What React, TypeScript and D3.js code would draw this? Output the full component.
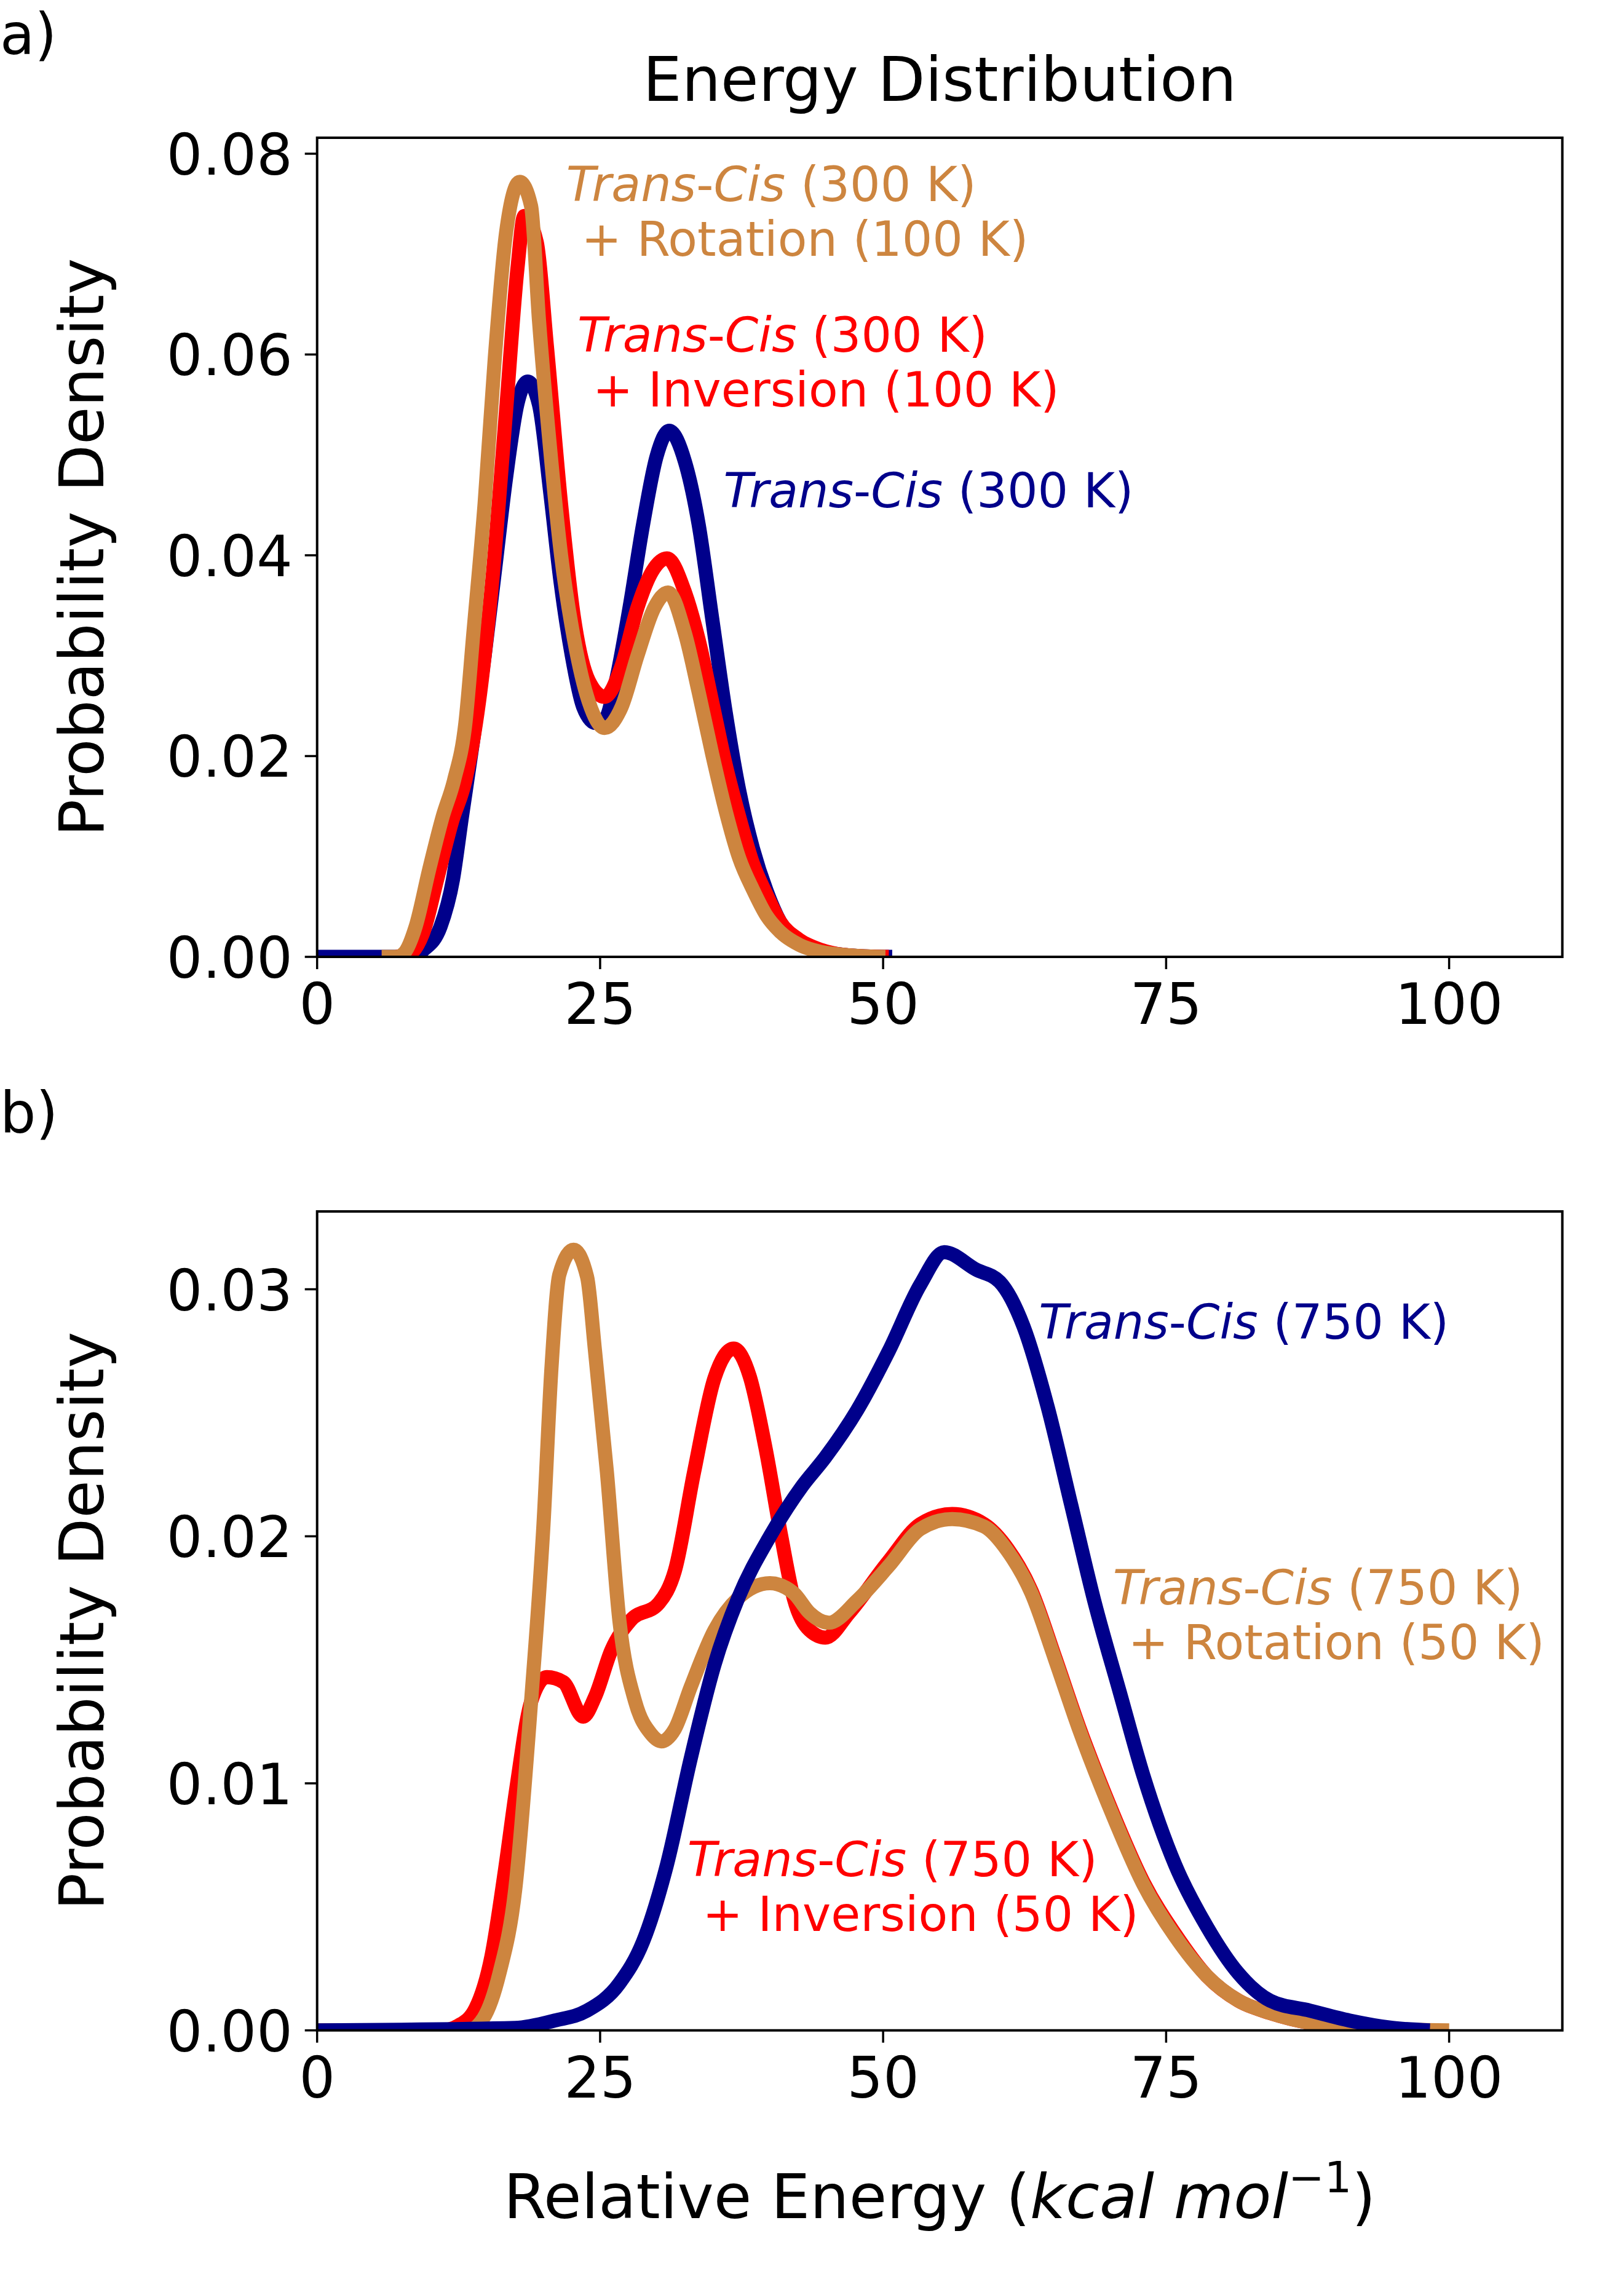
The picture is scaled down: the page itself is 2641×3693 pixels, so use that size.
import React from "react";
import * as d3 from "d3";

// ---------- DATA ----------
// Panel a (300 K)
const blueAX = [0, 8.2, 9.4, 10.9, 12.0, 12.8, 13.8, 14.8, 15.7, 16.7, 17.7, 18.6, 19.6, 20.6, 21.5, 22.5, 23.5, 24.6, 25.4, 26.4, 27.6, 28.8, 30.0, 31.1, 32.5, 33.7, 34.9, 36.1, 37.3, 38.5, 39.7, 40.9, 42.6, 44.5, 46.5, 48.5, 50.8];
const blueAY = [0, 0, 0.0007, 0.003, 0.0077, 0.014, 0.0217, 0.030, 0.0384, 0.0478, 0.0551, 0.0573, 0.0550, 0.0462, 0.0374, 0.030, 0.0249, 0.0233, 0.0236, 0.0275, 0.0348, 0.0431, 0.0499, 0.0524, 0.0493, 0.0431, 0.0337, 0.0243, 0.0165, 0.0108, 0.0066, 0.0035, 0.0015, 0.0006, 0.0002, 0.00005, 0];

const redAX = [7, 8.2, 9.4, 10.6, 11.9, 13.1, 14.3, 15.5, 16.7, 17.7, 18.3, 19.4, 20.3, 21.55, 22.7, 24.0, 25.4, 26.9, 28.3, 29.6, 30.9, 32.5, 33.7, 34.9, 36.1, 37.3, 38.5, 39.7, 40.9, 42.6, 44.5, 46.5, 48.5, 50.5];
const redAY = [0, 0.0003, 0.0025, 0.0077, 0.0134, 0.0176, 0.0254, 0.0378, 0.0545, 0.0686, 0.0738, 0.0712, 0.0608, 0.0451, 0.0337, 0.0275, 0.0259, 0.029, 0.0348, 0.0384, 0.0397, 0.0363, 0.0316, 0.0254, 0.0191, 0.0139, 0.0093, 0.0062, 0.0035, 0.0017, 0.0007, 0.0002, 0.00005, 0];

const orangeAX = [5.7, 7.0, 7.7, 8.7, 9.9, 11.1, 12.1, 13.1, 13.8, 14.8, 15.7, 16.7, 17.9, 18.9, 19.6, 20.6, 21.55, 22.7, 24.0, 25.4, 26.9, 28.3, 29.8, 31.0, 32.5, 33.7, 34.9, 36.1, 37.3, 38.5, 39.7, 40.9, 42.6, 44.5, 46.5, 48.5, 50.2];
const orangeAY = [0, 0, 0.0004, 0.003, 0.0087, 0.014, 0.0176, 0.0233, 0.0322, 0.0452, 0.0597, 0.0722, 0.0772, 0.0748, 0.0634, 0.0504, 0.040, 0.0316, 0.0254, 0.0228, 0.0249, 0.030, 0.0348, 0.0363, 0.0322, 0.0264, 0.0202, 0.0145, 0.0098, 0.0067, 0.0041, 0.0025, 0.0012, 0.0005, 0.0002, 0.00005, 0];

// Panel b (750 K)
const blueBX = [0, 17.5, 21.0, 23.85, 26.7, 28.8, 30.9, 33.0, 35.1, 37.2, 40.0, 42.8, 44.9, 47.7, 50.5, 53.3, 55.4, 58.2, 60.3, 62.4, 64.5, 66.6, 68.7, 70.9, 73.0, 75.8, 78.6, 81.4, 84.2, 87.7, 91.2, 95, 98.3];
const blueBY = [0, 0.0001, 0.0004, 0.0008, 0.0019, 0.0036, 0.0067, 0.011, 0.0148, 0.0175, 0.020, 0.022, 0.0232, 0.0251, 0.0275, 0.0302, 0.0315, 0.0308, 0.0303, 0.0285, 0.0253, 0.0213, 0.0173, 0.0137, 0.0103, 0.0067, 0.0042, 0.0023, 0.0012, 0.0008, 0.0004, 0.0001, 0];

const redBX = [0, 11.0, 12.5, 14.0, 15.4, 16.6, 17.6, 18.9, 20.3, 21.75, 23.5, 24.55, 26.0, 27.7, 30.2, 31.6, 33.3, 35.1, 36.8, 38.2, 39.6, 41.0, 42.1, 43.5, 44.9, 47.0, 50.5, 53.3, 56.1, 58.9, 61.0, 63.1, 65.2, 67.3, 70.2, 73.0, 75.8, 78.6, 81.4, 84.2, 87.7, 92, 97];
const redBY = [0, 0, 0.0002, 0.0009, 0.003, 0.0065, 0.0098, 0.0133, 0.0143, 0.0141, 0.0127, 0.0135, 0.0154, 0.0166, 0.0173, 0.0186, 0.0226, 0.0264, 0.0276, 0.0265, 0.0236, 0.020, 0.0175, 0.0162, 0.0159, 0.0169, 0.019, 0.0205, 0.0209, 0.0205, 0.0195, 0.0178, 0.0151, 0.0123, 0.0089, 0.006, 0.0039, 0.0022, 0.0012, 0.0007, 0.0003, 0.0001, 0];

const orangeBX = [0, 13.3, 14.7, 16.1, 17.5, 18.9, 20.0, 20.7, 21.4, 22.66, 23.85, 24.55, 25.6, 26.7, 28.1, 29.5, 30.4, 31.6, 33.0, 35.1, 37.2, 40.0, 42.1, 43.5, 45.2, 47.7, 50.5, 53.3, 56.1, 58.9, 61.0, 63.1, 65.2, 67.3, 70.2, 73.0, 75.8, 78.6, 81.4, 84.2, 87.7, 92, 100];
const orangeBY = [0, 0, 0.0005, 0.0023, 0.0057, 0.0133, 0.0205, 0.0268, 0.0306, 0.0316, 0.0305, 0.0275, 0.0226, 0.0166, 0.0133, 0.0120, 0.0117, 0.0122, 0.0139, 0.0162, 0.0175, 0.0181, 0.0177, 0.0169, 0.0165, 0.0174, 0.0188, 0.0203, 0.0207, 0.0204, 0.0194, 0.0177, 0.015, 0.0122, 0.0088, 0.0059, 0.0038, 0.0022, 0.0012, 0.0007, 0.0003, 0.0001, 0];

const xTicks = [0, 25, 50, 75, 100];
const yTicksA = [0, 0.02, 0.04, 0.06, 0.08];
const yTicksB = [0, 0.01, 0.02, 0.03];

const BLUE = "#00008B";
const RED = "#FF0000";
const ORANGE = "#CD853F";

// ---------- LAYOUT ----------
const W = 2641;
const H = 3693;
const LEFT = 515.7;
const RIGHT = 2540.7;
const FONT = "DejaVu Sans, Liberation Sans, sans-serif";
const LABEL_FS = 100;

type Series = { xs: number[]; ys: number[]; color: string };
type Note = { x: number; y: number; color: string; lines: React.ReactNode[] };

function Panel(props: {
  id: string;
  top: number;
  bottom: number;
  yMax: number;
  yTicks: number[];
  series: Series[];
  notes: Note[];
}) {
  const { id, top, bottom, yMax, yTicks, series, notes } = props;
  const x = d3.scaleLinear().domain([0, 110]).range([LEFT, RIGHT]);
  const y = d3.scaleLinear().domain([0, yMax]).range([bottom, top]);
  const line = d3
    .line<[number, number]>()
    .x((d) => x(d[0]))
    .y((d) => y(d[1]))
    .curve(d3.curveMonotoneX);
  const tickLen = 20;
  const tickFs = 92;
  const fmt = d3.format(".2f");
  return (
    <g>
      <defs>
        <clipPath id={id}>
          <rect x={LEFT} y={top} width={RIGHT - LEFT} height={bottom - top} />
        </clipPath>
      </defs>
      <g clipPath={`url(#${id})`}>
        {series.map((s, i) => (
          <path
            key={i}
            d={line(s.xs.map((v, j) => [v, s.ys[j]] as [number, number])) || ""}
            fill="none"
            stroke={s.color}
            strokeWidth={23}
            strokeLinejoin="round"
            strokeLinecap="butt"
          />
        ))}
      </g>
      {notes.map((n, i) => (
        <g key={i} fill={n.color} fontFamily={FONT} fontSize={78}>
          {n.lines.map((ln, k) => (
            <text key={k} x={x(n.x)} y={y(n.y) + k * 89} style={{ whiteSpace: "pre" }}>
              {ln}
            </text>
          ))}
        </g>
      ))}
      <rect
        x={LEFT}
        y={top}
        width={RIGHT - LEFT}
        height={bottom - top}
        fill="none"
        stroke="#000"
        strokeWidth={4}
      />
      {xTicks.map((t) => (
        <g key={t}>
          <line x1={x(t)} x2={x(t)} y1={bottom} y2={bottom + tickLen} stroke="#000" strokeWidth={3.5} />
          <text
            x={x(t)}
            y={bottom + 109}
            textAnchor="middle"
            fontFamily={FONT}
            fontSize={tickFs}
            fill="#000"
          >
            {t}
          </text>
        </g>
      ))}
      {yTicks.map((t) => (
        <g key={t}>
          <line x1={LEFT - tickLen} x2={LEFT} y1={y(t)} y2={y(t)} stroke="#000" strokeWidth={3.5} />
          <text
            x={LEFT - 40}
            y={y(t) + 34}
            textAnchor="end"
            fontFamily={FONT}
            fontSize={tickFs}
            fill="#000"
          >
            {fmt(t)}
          </text>
        </g>
      ))}
      <text
        transform={`translate(168,${(top + bottom) / 2}) rotate(-90)`}
        textAnchor="middle"
        fontFamily={FONT}
        fontSize={LABEL_FS}
        fill="#000"
      >
        Probability Density
      </text>
    </g>
  );
}

const TC = (
  <>
    <tspan fontStyle="italic">Trans</tspan>-<tspan fontStyle="italic">Cis</tspan>
  </>
);

export default function App() {
  const topA = 224;
  const bottomA = 1556;
  const topB = 1970;
  const bottomB = 3301.7;
  return (
    <svg
      width={W}
      height={H}
      viewBox={`0 0 ${W} ${H}`}
      style={{ position: "absolute", left: 0, top: 0, display: "block", background: "#fff" }}
    >
      <rect x={0} y={0} width={W} height={H} fill="#fff" />
      <text x={0} y={88} fontFamily={FONT} fontSize={92} fill="#000">
        a)
      </text>
      <text x={0} y={1842} fontFamily={FONT} fontSize={92} fill="#000">
        b)
      </text>
      <text x={(LEFT + RIGHT) / 2} y={164} textAnchor="middle" fontFamily={FONT} fontSize={LABEL_FS} fill="#000">
        Energy Distribution
      </text>
      <Panel
        id="clipA"
        top={topA}
        bottom={bottomA}
        yMax={0.08159}
        yTicks={yTicksA}
        series={[
          { xs: blueAX, ys: blueAY, color: BLUE },
          { xs: redAX, ys: redAY, color: RED },
          { xs: orangeAX, ys: orangeAY, color: ORANGE },
        ]}
        notes={[
          { x: 22, y: 0.0753, color: ORANGE, lines: [<>{TC} (300 K)</>, <>{"\u00A0+ Rotation (100 K)"}</>] },
          { x: 23, y: 0.0603, color: RED, lines: [<>{TC} (300 K)</>, <>{"\u00A0+ Inversion (100 K)"}</>] },
          { x: 35.9, y: 0.0448, color: BLUE, lines: [<>{TC} (300 K)</>] },
        ]}
      />
      <Panel
        id="clipB"
        top={topB}
        bottom={bottomB}
        yMax={0.03315}
        yTicks={yTicksB}
        series={[
          { xs: redBX, ys: redBY, color: RED },
          { xs: orangeBX, ys: orangeBY, color: ORANGE },
          { xs: blueBX, ys: blueBY, color: BLUE },
        ]}
        notes={[
          { x: 63.75, y: 0.028, color: BLUE, lines: [<>{TC} (750 K)</>] },
          { x: 70.3, y: 0.01724, color: ORANGE, lines: [<>{TC} (750 K)</>, <>{"\u00A0+ Rotation (50 K)"}</>] },
          { x: 32.7, y: 0.00624, color: RED, lines: [<>{TC} (750 K)</>, <>{"\u00A0+ Inversion (50 K)"}</>] },
        ]}
      />
      <text x={(LEFT + RIGHT) / 2} y={3607} textAnchor="middle" fontFamily={FONT} fontSize={LABEL_FS} fill="#000">
        Relative Energy (<tspan fontStyle="italic">kcal mol</tspan>
        <tspan fontSize={70} dy={-42}>{"\u22121"}</tspan>
        <tspan dy={42}>)</tspan>
      </text>
    </svg>
  );
}
